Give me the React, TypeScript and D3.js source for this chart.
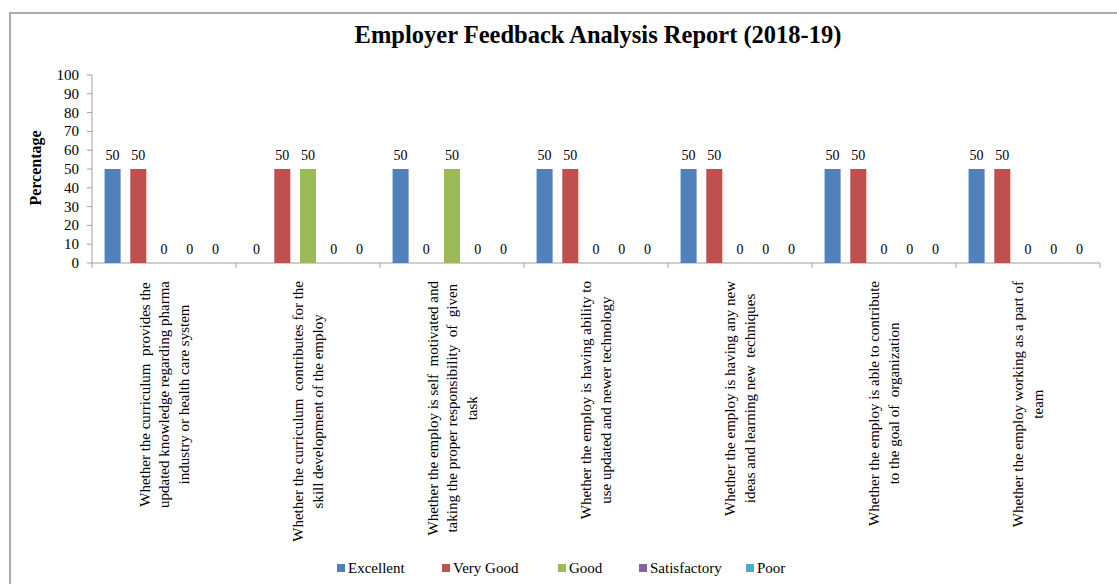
import React from 'react';
import * as d3 from 'd3';

const categories = [
  ['Whether the curriculum  provides the', 'updated knowledge regarding pharma', 'industry or health care system'],
  ['Whether the curriculum  contributes for the', 'skill development of the employ'],
  ['Whether the employ is self  motivated and', 'taking the proper responsibility  of  given', 'task'],
  ['Whether the employ is having ability to', 'use updated and newer technology'],
  ['Whether the employ is having any new', 'ideas and learning new  techniques'],
  ['Whether the employ is able to contribute', 'to the goal of  organization'],
  ['Whether the employ working as a part of', 'team']
];
const seriesNames = ['Excellent', 'Very Good', 'Good', 'Satisfactory', 'Poor'];
const seriesColors = ['#4F81BD', '#C0504D', '#9BBB59', '#8064A2', '#4BACC6'];
const excellent = [50, 0, 50, 50, 50, 50, 50];
const veryGood = [50, 50, 0, 50, 50, 50, 50];
const good = [0, 50, 50, 0, 0, 0, 0];
const satisfactory = [0, 0, 0, 0, 0, 0, 0];
const poor = [0, 0, 0, 0, 0, 0, 0];
const yTicks = [0, 10, 20, 30, 40, 50, 60, 70, 80, 90, 100];

const font = '"Liberation Serif", "Times New Roman", serif';
const axisColor = '#A0A0A0';

let ctx: CanvasRenderingContext2D | null = null;
function measure(text: string, size: number): number {
  if (ctx == null) ctx = document.createElement('canvas').getContext('2d');
  if (ctx == null) return text.length * size * 0.45;
  ctx.font = `${size}px "Liberation Serif"`;
  return ctx.measureText(text).width;
}

export default function App(): JSX.Element {
  const values = [excellent, veryGood, good, satisfactory, poor];
  const left = 92;
  const right = 1100;
  const top = 75;
  const bottom = 263;

  const x = d3
    .scaleBand<number>()
    .domain(d3.range(categories.length))
    .range([left, right]);
  const inner = d3
    .scaleBand<number>()
    .domain(d3.range(seriesNames.length))
    .range([0, x.bandwidth()])
    .paddingInner(0.377)
    .paddingOuter(0.49);
  const y = d3.scaleLinear().domain([0, 100]).range([bottom, top]);

  const cells = values.flatMap((vals, s) => vals.map((v, c) => ({ s, c, v })));
  const legendX = [337, 442, 558, 639, 746];
  const labelSize = 15;
  const lineGap = 19.5;

  return (
    <div style={{ position: 'absolute', left: 0, top: 0, width: 1117, height: 584, overflow: 'hidden' }}>
      <svg width={1117} height={584} style={{ display: 'block', fontFamily: font }}>
        <rect x={10} y={13} width={1130} height={600} fill="white" stroke="#ABABAB" strokeWidth={2} />
        <text x={598} y={43} textAnchor="middle" fontWeight="bold" fontSize={24.5}>
          Employer Feedback Analysis Report  (2018-19)
        </text>

        {/* y axis */}
        <line x1={left} x2={left} y1={y(100)} y2={y(0)} stroke={axisColor} />
        {yTicks.map((t) => (
          <g key={t}>
            <line x1={left - 5} x2={left} y1={y(t)} y2={y(t)} stroke={axisColor} />
            <text x={left - 13} y={y(t) + 5} textAnchor="end" fontSize={15}>
              {t}
            </text>
          </g>
        ))}
        <text
          transform={`translate(41, ${(top + bottom) / 2 - 1}) rotate(-90)`}
          textAnchor="middle"
          fontWeight="bold"
          fontSize={16}
        >
          Percentage
        </text>

        {/* x axis */}
        <line x1={left} x2={right} y1={bottom} y2={bottom} stroke={axisColor} />
        {d3.range(categories.length + 1).map((i) => (
          <line
            key={i}
            x1={left + i * x.step()}
            x2={left + i * x.step()}
            y1={bottom}
            y2={bottom + 5}
            stroke={axisColor}
          />
        ))}

        {/* bars */}
        {cells.map((d) => (
          <rect
            key={`b${d.s}-${d.c}`}
            x={(x(d.c) as number) + (inner(d.s) as number)}
            y={y(d.v)}
            width={inner.bandwidth()}
            height={y(0) - y(d.v)}
            fill={seriesColors[d.s]}
          />
        ))}
        {cells.map((d) => (
          <text
            key={`l${d.s}-${d.c}`}
            x={(x(d.c) as number) + (inner(d.s) as number) + inner.bandwidth() / 2}
            y={y(d.v) - 9.5}
            textAnchor="middle"
            fontSize={14}
          >
            {String(d.v)}
          </text>
        ))}

        {/* category labels */}
        {categories.map((lines, c) => {
          const cx = (x(c) as number) + x.bandwidth() / 2;
          const maxLen = d3.max(lines, (l) => measure(l, labelSize)) || 0;
          const cy = 281 + maxLen / 2;
          return (
            <g key={c}>
              {lines.map((l, i) => (
                <text
                  key={i}
                  transform={`translate(${cx + (i - (lines.length - 1) / 2) * lineGap + 5}, ${cy}) rotate(-90)`}
                  textAnchor="middle"
                  fontSize={labelSize}
                  style={{ whiteSpace: 'pre' }}
                >
                  {l}
                </text>
              ))}
            </g>
          );
        })}

        {/* legend */}
        {seriesNames.map((n, i) => (
          <g key={n}>
            <rect x={legendX[i]} y={564} width={8} height={8} fill={seriesColors[i]} />
            <text x={legendX[i] + 11} y={573} fontSize={15}>
              {n}
            </text>
          </g>
        ))}
      </svg>
    </div>
  );
}
